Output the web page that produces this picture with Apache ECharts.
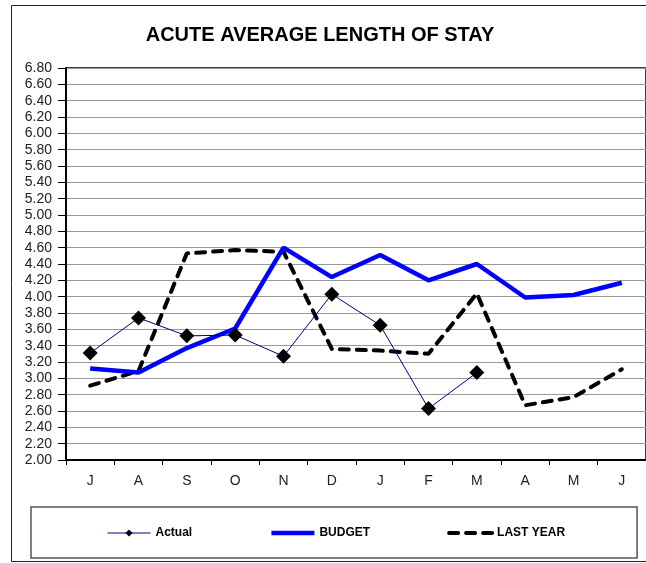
<!DOCTYPE html>
<html>
<head>
<meta charset="utf-8">
<title>Acute Average Length of Stay</title>
<script src="https://cdn.jsdelivr.net/npm/echarts@6/dist/echarts.min.js"></script>
<style>
  html, body { margin: 0; padding: 0; background: #fff; }
  #chart { width: 646px; height: 563px; }
</style>
</head>
<body>
<div id="chart"></div>
<script>
// months, July to June
const months = ['J', 'A', 'S', 'O', 'N', 'D', 'J', 'F', 'M', 'A', 'M', 'J'];
// actual only runs to March
const actual = [3.31, 3.74, 3.52, 3.53, 3.27, 4.03, 3.65, 2.63, 3.07, null, null, null];
const budget = [3.12, 3.07, 3.37, 3.61, 4.60, 4.24, 4.51, 4.20, 4.40, 3.99, 4.02, 4.17];
const lastYear = [2.91, 3.09, 4.53, 4.57, 4.55, 3.36, 3.34, 3.30, 4.04, 2.67, 2.77, 3.11];

let chart = echarts.init(document.getElementById('chart'));

let option = {
  animation: false,
  backgroundColor: '#fff',
  textStyle: { fontFamily: 'Liberation Sans, Arial, sans-serif' },
  title: {
    text: 'ACUTE AVERAGE LENGTH OF STAY',
    left: 315,
    textAlign: 'center',
    top: 20,
    textStyle: { fontSize: 20, fontWeight: 'bold', color: '#000' }
  },
  graphic: [
    {
      // outer chart frame (right side runs off the picture)
      type: 'rect',
      shape: { x: 11.5, y: 5.5, width: 700, height: 556 },
      style: { fill: 'none', stroke: '#222', lineWidth: 1 },
      z: -1
    }
  ],
  grid: {
    left: 66,
    right: -2,
    top: 68,
    bottom: 103,
    show: true,
    borderColor: '#000',
    borderWidth: 1.5
  },
  legend: {
    left: 31,
    top: 507,
    orient: 'horizontal',
    padding: [20, 72, 19, 76],
    itemWidth: 43,
    itemHeight: 9,
    itemGap: 77,
    borderColor: '#555',
    borderWidth: 1.5,
    textStyle: { fontSize: 12, fontWeight: 'bold', color: '#000' },
    data: [
      { name: 'Actual', lineStyle: { width: 1, color: '#000080' } },
      { name: 'BUDGET', itemStyle: { opacity: 0 }, lineStyle: { width: 4.5, color: '#0000ff' } },
      { name: 'LAST YEAR', itemStyle: { opacity: 0 }, lineStyle: { width: 4, color: '#000', type: [9, 8], cap: 'round' } }
    ]
  },
  xAxis: {
    type: 'category',
    data: months,
    boundaryGap: true,
    axisLine: { lineStyle: { color: '#000', width: 2 } },
    axisTick: { show: true, length: 5, lineStyle: { color: '#000' } },
    axisLabel: { margin: 14, fontSize: 14, color: '#222' },
    splitLine: { show: false }
  },
  yAxis: {
    type: 'value',
    min: 2,
    max: 6.8,
    interval: 0.2,
    axisLine: { show: true, lineStyle: { color: '#000', width: 2 } },
    axisTick: { show: true, length: 8, lineStyle: { color: '#000' } },
    axisLabel: {
      margin: 14,
      fontSize: 14,
      color: '#222',
      formatter: v => v.toFixed(2)
    },
    splitLine: { show: true, lineStyle: { color: '#999', width: 1 } }
  },
  series: [
    {
      name: 'Actual',
      type: 'line',
      data: actual,
      symbol: 'diamond',
      symbolSize: 15,
      itemStyle: { color: '#000' },
      lineStyle: { color: '#000080', width: 1 },
      z: 4
    },
    {
      name: 'BUDGET',
      type: 'line',
      data: budget,
      symbol: 'none',
      itemStyle: { color: '#0000ff' },
      lineStyle: { color: '#0000ff', width: 4.5 },
      z: 3
    },
    {
      name: 'LAST YEAR',
      type: 'line',
      data: lastYear,
      symbol: 'none',
      itemStyle: { color: '#000' },
      lineStyle: { color: '#000', width: 4, type: [9, 8], cap: 'round' },
      z: 2
    }
  ]
};

chart.setOption(option);
</script>
</body>
</html>
